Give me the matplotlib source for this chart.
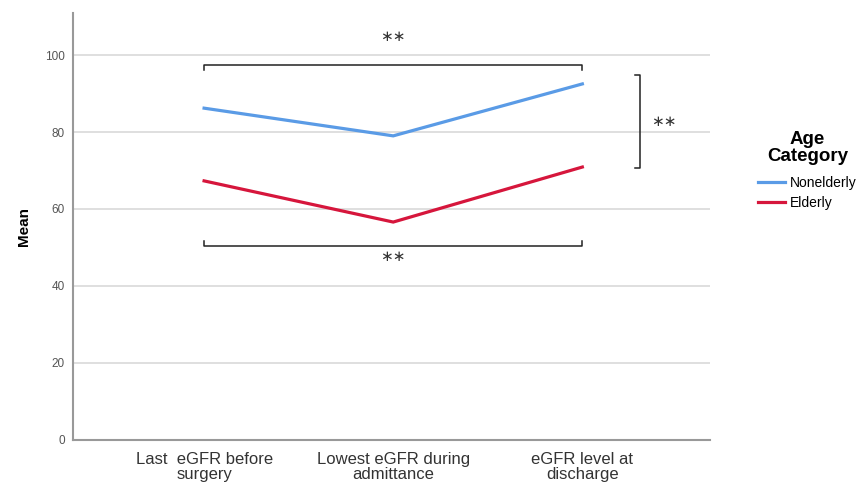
import matplotlib.pyplot as plt

plt.rcParams['font.family'] = ['Liberation Sans', 'DejaVu Sans']

categories = ["Last  eGFR before\nsurgery", "Lowest eGFR during\nadmittance", "eGFR level at\ndischarge"]
nonelderly = [86.2, 79.0, 92.5]
elderly = [67.3, 56.6, 70.9]
yticks = [0, 20, 40, 60, 80, 100]

fig = plt.figure(figsize=(8.59, 4.86), dpi=100)
ax = fig.add_axes([0.085, 0.095, 0.742, 0.878])

x = list(range(len(categories)))
ax.plot(x, nonelderly, color='#5A9BE6', lw=2.3, label='Nonelderly', solid_joinstyle='miter')
ax.plot(x, elderly, color='#D6163C', lw=2.3, label='Elderly', solid_joinstyle='miter')

ax.set_xlim(-0.693, 2.677)
ax.set_ylim(0, 110.9)
ax.set_yticks(yticks)
ax.set_xticks(x)
ax.set_xticklabels(categories, fontsize=12, color='#333333', linespacing=1.0)
ax.tick_params(axis='y', labelsize=8.5, labelcolor='#555555', length=0, pad=6)
ax.tick_params(axis='x', length=0, pad=9)
ax.grid(axis='y', color='#d9d9d9', lw=1.2)
ax.set_axisbelow(True)
for s in ['top', 'right']:
    ax.spines[s].set_visible(False)
ax.spines['left'].set_color('#999999')
ax.spines['bottom'].set_color('#999999')
ax.spines['left'].set_linewidth(1.5)
ax.spines['bottom'].set_linewidth(1.5)
ax.set_ylabel('Mean', fontsize=11, fontweight='bold', labelpad=10)

# significance brackets
k = dict(color='#222222', lw=1.1, clip_on=False)
star = dict(ha='center', va='center', fontsize=11, color='#333333', family='DejaVu Sans')
ax.plot([0, 0, 2, 2], [96.0, 97.4, 97.4, 96.0], **k)
ax.text(1, 104.7, '∗∗', **star)
ax.plot([0, 0, 2, 2], [51.7, 50.4, 50.4, 51.7], **k)
ax.text(1, 47.6, '∗∗', **star)
ax.plot([2.28, 2.307, 2.307, 2.28], [94.8, 94.8, 70.6, 70.6], **k)
ax.text(2.43, 82.7, '∗∗', **star)

leg = fig.legend(loc='upper left', bbox_to_anchor=(0.8824, 0.73), frameon=False,
                 title='Age\nCategory', fontsize=10, handlelength=1.95,
                 handletextpad=0.36, labelspacing=0.4, borderpad=0,
                 borderaxespad=0, alignment='center')
leg.get_title().set_fontweight('bold')
leg.get_title().set_fontsize(13.5)
leg.get_title().set_multialignment('center')
leg.get_title().set_linespacing(1.0)
leg._legend_box.sep = 8

fig.savefig('out.png', dpi=100)
